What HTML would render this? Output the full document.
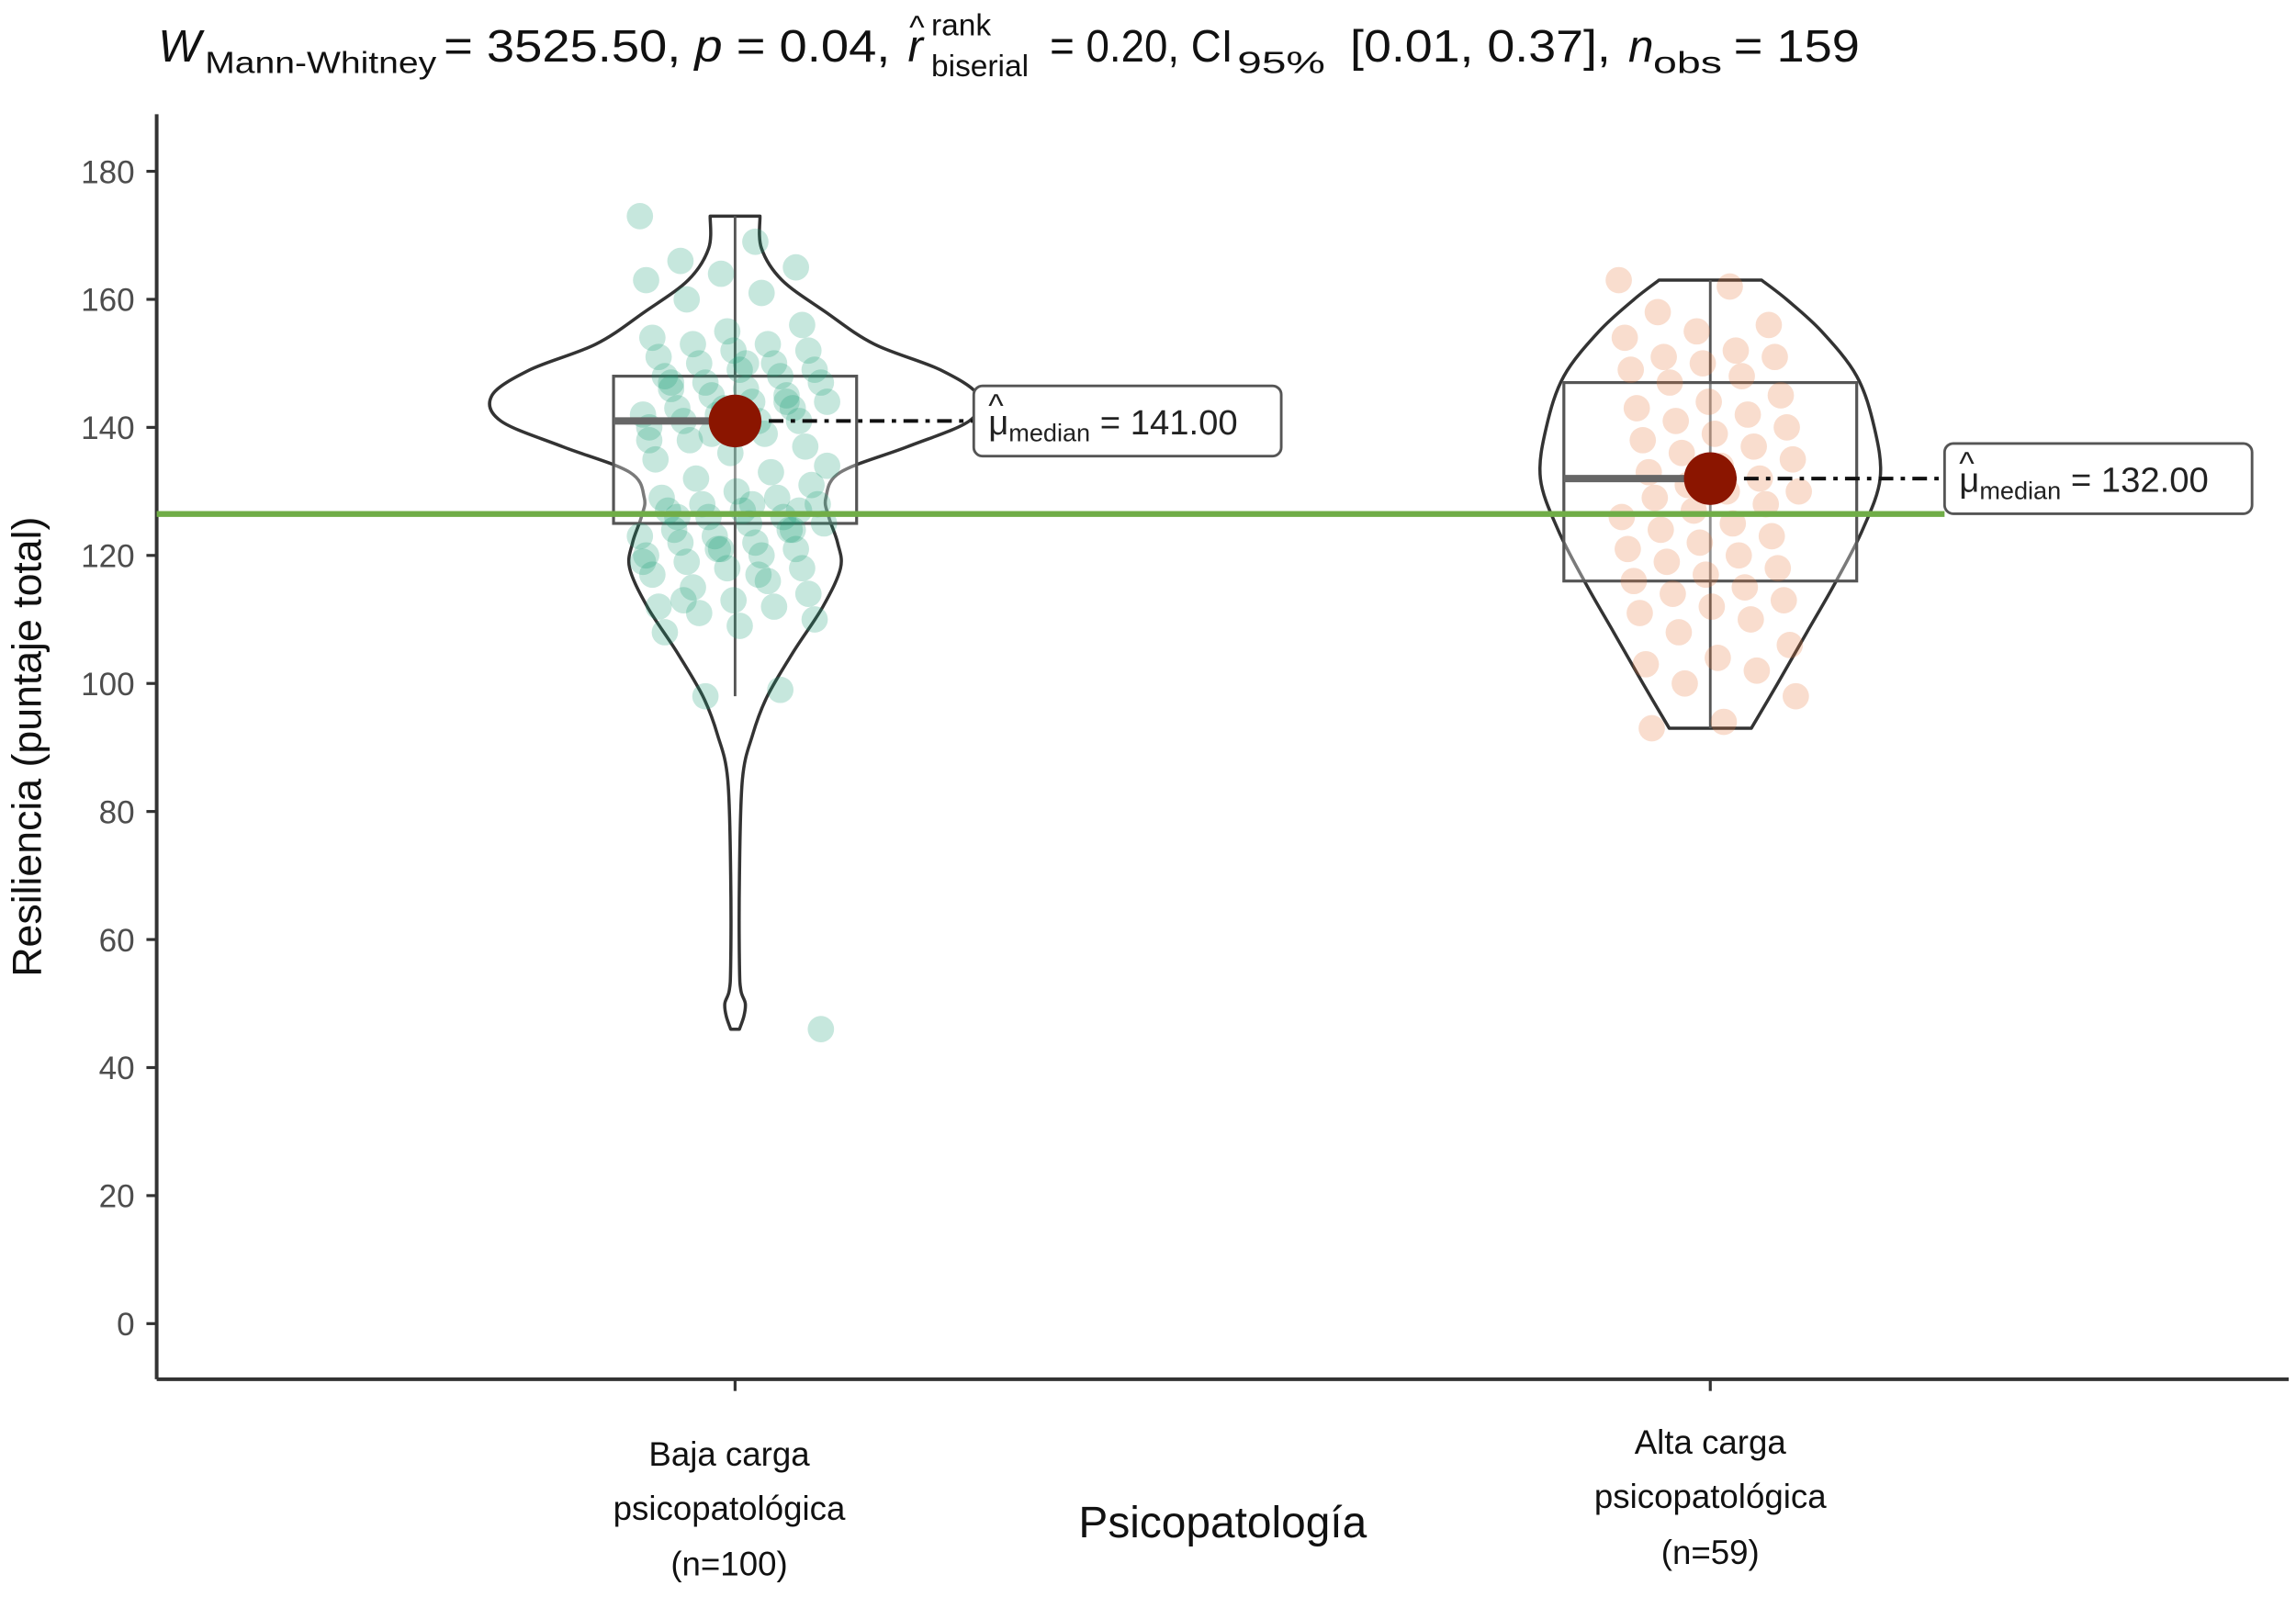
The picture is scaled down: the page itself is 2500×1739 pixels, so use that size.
<!DOCTYPE html>
<html><head><meta charset="utf-8"><style>
html,body{margin:0;padding:0;background:#fff}
svg{display:block}
text{font-family:"Liberation Sans",sans-serif}
</style></head><body>
<svg id="chart" width="2500" height="1739" viewBox="0 0 1568 1090.7" xmlns="http://www.w3.org/2000/svg">
<g font-size="31" fill="#111">
  <text x="108" y="42" font-style="italic">W</text>
  <text x="140" y="50" font-size="21" textLength="158" lengthAdjust="spacingAndGlyphs">Mann-Whitney</text>
  <text x="303" y="42" textLength="305" lengthAdjust="spacingAndGlyphs">= 3525.50, <tspan font-style="italic">p</tspan> = 0.04,</text>
  <text x="620" y="42" font-style="italic">r</text>
  <text x="621" y="26" font-size="22">^</text>
  <text x="636" y="24" font-size="21">rank</text>
  <text x="636" y="52" font-size="21">biserial</text>
  <text x="717" y="42" textLength="125" lengthAdjust="spacingAndGlyphs">= 0.20, CI</text>
  <text x="845" y="50" font-size="21" textLength="60" lengthAdjust="spacingAndGlyphs">95%</text>
  <text x="922" y="42" textLength="178" lengthAdjust="spacingAndGlyphs">[0.01, 0.37],</text>
  <text x="1112" y="42" font-style="italic">n</text>
  <text x="1129" y="50" font-size="21" textLength="47" lengthAdjust="spacingAndGlyphs">obs</text>
  <text x="1184" y="42" textLength="86" lengthAdjust="spacingAndGlyphs">= 159</text>
</g>
<g id="plot"></g>
</svg>
<script>
const yTicks=[0,20,40,60,80,100,120,140,160,180];
const categories=["Baja carga|psicopatológica|(n=100)","Alta carga|psicopatológica|(n=59)"];
const medians=[141,132];
const q1=[125,116], q3=[148,147], whiskLo=[98,93], whiskHi=[173,163];
const violin1Vals=[46,48,50,52,56,70,85,92,98,105,112,118,122,126,129,133,137,141,145,149,153,158,163,168,173];
const violin1Half=[3,6,7,4,3,3,5,12,22,40,60,72,70,64,62,72,118,160,166,140,95,62,32,18,17];
const violin2Vals=[93,100,108,116,124,132,140,148,155,160,163];
const violin2Half=[28,46,66,86,104,116,112,100,76,52,35];
const group1=[173,169,166,165,164,163,161,160,156,155,154,153,153,152,152,151,150,150,149,149,148,148,147,147,146,146,145,145,144,144,143,143,142,142,141,141,141,140,140,139,138,137,136,135,133,132,131,130,129,129,128,128,127,127,126,126,125,125,124,124,123,123,122,122,121,121,120,120,119,118,118,117,116,115,114,113,112,112,111,110,109,108,99,98,46,150,147,144,139,134,128,126,124,121,119,117,113,127,143,138];
const group2=[163,162,158,156,155,154,152,151,151,150,149,148,147,145,144,143,142,141,140,139,138,137,136,135,134,133,132,131,130,130,129,128,127,126,125,124,123,122,121,120,119,118,117,116,115,114,113,112,111,110,108,106,104,103,102,100,98,94,93];
const sY=v=>904-(v-0)*(904-117)/180;
const centers=[502,1168];
const NS="http://www.w3.org/2000/svg";
const plot=document.getElementById('plot');
function mk(tag,attrs,parent){const e=document.createElementNS(NS,tag);for(const k in attrs)e.setAttribute(k,attrs[k]);(parent||plot).appendChild(e);return e;}
let ax=mk('line',{x1:107,y1:78,x2:107,y2:942,stroke:'#333','stroke-width':2.5});


let bx=mk('line',{x1:107,y1:942,x2:1563,y2:942,stroke:'#333','stroke-width':2.5});


yTicks.forEach(t=>{
  const y=sY(t);
  const tk=mk('line',{x1:100,y1:y,x2:107,y2:y,stroke:'#333','stroke-width':2});
  
  
  const tx=mk('text',{x:92,y:y+8,'text-anchor':'end','font-size':22,fill:'#4d4d4d'});
  tx.textContent=t;
  
  
});
const yt=mk('text',{x:0,y:0,'font-size':28,fill:'#111','text-anchor':'middle',transform:'translate(28,510) rotate(-90)'});
yt.textContent='Resiliencia (puntaje total)';


const xt=mk('text',{x:835,y:1050,'font-size':30,fill:'#111','text-anchor':'middle'});
xt.textContent='Psicopatología';


const catY=[[1001,1038,1076],[993,1030,1068]];
categories.forEach((c,i)=>{
  const tk=mk('line',{x1:centers[i],y1:942,x2:centers[i],y2:950,stroke:'#333','stroke-width':2});
  
  
  c.split('|').forEach((l,j)=>{
    const t=mk('text',{x:centers[i]-(i==0?4:0),y:catY[i][j],'font-size':23,fill:'#111','text-anchor':'middle'});
    t.textContent=l;
    
    
  });
});
function smooth(pts){
  let d='M'+pts[0][0].toFixed(1)+','+pts[0][1].toFixed(1);
  for(let i=0;i<pts.length-1;i++){
    const p0=pts[Math.max(0,i-1)],p1=pts[i],p2=pts[i+1],p3=pts[Math.min(pts.length-1,i+2)];
    const c1=[p1[0]+(p2[0]-p0[0])/6,p1[1]+(p2[1]-p0[1])/6];
    const c2=[p2[0]-(p3[0]-p1[0])/6,p2[1]-(p3[1]-p1[1])/6];
    d+=' C'+c1[0].toFixed(1)+','+c1[1].toFixed(1)+' '+c2[0].toFixed(1)+','+c2[1].toFixed(1)+' '+p2[0].toFixed(1)+','+p2[1].toFixed(1);
  }
  return d;
}
function violin(cx,vals,half,name){
  let L=[],R=[];
  vals.forEach((v,i)=>{L.push([cx-half[i],sY(v)]);R.push([cx+half[i],sY(v)]);});
  const d=smooth(L)+' L'+smooth(R.reverse()).slice(1)+' Z';
  const p=mk('path',{d:d,fill:'none',stroke:'#333','stroke-width':2.2,'stroke-linejoin':'round'});
  
  
}
violin(centers[0],violin1Vals,violin1Half,'violin-baja');
violin(centers[1],violin2Vals,violin2Half,'violin-alta');
const boxHalf=[83,100];
[0,1].forEach(i=>{
  const cx=centers[i];
  const w1=mk('line',{x1:cx,y1:sY(whiskHi[i]),x2:cx,y2:sY(whiskLo[i]),stroke:'#555','stroke-width':1.8});
  
  
  const b=mk('rect',{x:cx-boxHalf[i],y:sY(q3[i]),width:2*boxHalf[i],height:sY(q1[i])-sY(q3[i]),fill:'rgba(255,255,255,0.35)',stroke:'#555','stroke-width':2});
  
  
});
const colors=['#1b9e77','#e8763a'];
const spread=[130,125];
[group1,group2].forEach((g,gi)=>{
  g.forEach((v,i)=>{
    const j=((i*37)%61)/61-0.5;
    const c=mk('circle',{cx:centers[gi]+j*spread[gi],cy:sY(v),r:9,fill:colors[gi],'fill-opacity':0.25});
    
    
  });
});
const labelX=[665,1328];
[0,1].forEach(i=>{
  const cx=centers[i],y=sY(medians[i]);
  const ml=mk('line',{x1:cx-boxHalf[i],y1:y,x2:cx,y2:y,stroke:'#666','stroke-width':5});
  
  
  const dl=mk('line',{x1:cx,y1:y,x2:labelX[i],y2:y,stroke:'#111','stroke-width':2.5,'stroke-dasharray':'10,5,3,5'});
  
  
  const pt=mk('circle',{cx:cx,cy:y,r:18,fill:'#8b1500'});
  
  
  const g=mk('g',{});
  
  
  mk('rect',{x:labelX[i],y:y-24,width:210,height:48,rx:6,fill:'#fff',stroke:'#555','stroke-width':1.8},g);
  const hat=mk('text',{x:labelX[i]+10,y:y-3,'font-size':22,fill:'#222'},g);
  hat.textContent='^';
  const t=mk('text',{x:labelX[i]+10,y:y+9,'font-size':24,fill:'#222'},g);
  t.innerHTML='μ<tspan font-size="17" dy="5">median</tspan><tspan dy="-5"> = '+medians[i].toFixed(2)+'</tspan>';
});
const gl=mk('line',{x1:107,y1:351,x2:1328,y2:351,stroke:'#70ad47','stroke-width':4});


</script>
</body></html>
